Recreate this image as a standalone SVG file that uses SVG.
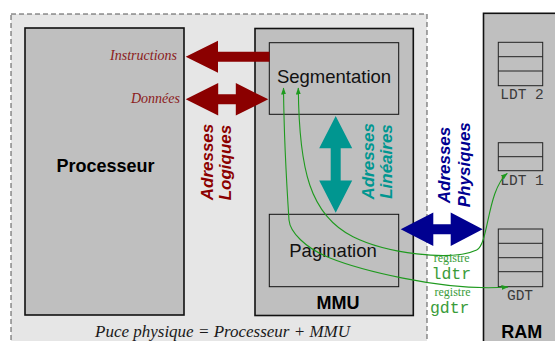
<svg xmlns="http://www.w3.org/2000/svg" width="555" height="341" viewBox="0 0 555 341">
  <defs>
    <style>
      .box { fill: #bfbfbf; stroke: #111; stroke-width: 1.6; }
      .inner { fill: #bfbfbf; stroke: #111; stroke-width: 1; }
      .title { font-family: "Liberation Sans", Arial, sans-serif; font-weight: bold; font-size: 18px; fill: #000; text-anchor: middle; }
      .unit { font-family: "Liberation Sans", Arial, sans-serif; font-size: 18.5px; fill: #111; text-anchor: middle; }
      .vlab { font-family: "Liberation Sans", Arial, sans-serif; font-weight: bold; font-style: italic; font-size: 17px; text-anchor: middle; }
      .flow { font-family: "Liberation Serif", "Times New Roman", serif; font-style: italic; font-size: 14px; fill: #8b1a1a; text-anchor: end; }
      .caption { font-family: "Liberation Serif", "Times New Roman", serif; font-style: italic; font-size: 17px; fill: #1a1a1a; }
      .tbl { fill: none; stroke: #222; stroke-width: 1; }
      .tname { font-family: "Liberation Mono", "Courier New", monospace; font-size: 14.5px; fill: #3a3a3a; text-anchor: middle; }
      .link { fill: none; stroke: #1f9a1f; stroke-width: 1.1; marker-start: url(#g-head); marker-end: url(#g-head); }
      .reg { font-family: "Liberation Serif", "Times New Roman", serif; font-size: 12px; fill: #3a9c3a; text-anchor: middle; }
      .regname { font-family: "Liberation Mono", "Courier New", monospace; font-size: 16.5px; fill: #3a9c3a; text-anchor: middle; }
      .red { fill: #8b0000; }
      .teal { fill: #009690; }
      .blue { fill: #000090; }
    </style>
    <marker id="g-head" viewBox="0 0 7 5" refX="6.5" refY="2.5" markerWidth="7" markerHeight="5" markerUnits="userSpaceOnUse" orient="auto-start-reverse">
      <path d="M0,0 L7,2.5 L0,5 z" fill="#1f9a1f"/>
    </marker>
  </defs>

  <rect width="555" height="341" fill="#fff"/>

  <!-- physical chip boundary -->
  <g id="chip">
    <rect x="11" y="14" width="416" height="335" fill="#e6e6e6" stroke="#555" stroke-width="1" stroke-dasharray="5,3"/>
    <text class="caption" x="95" y="336.5">Puce physique = Processeur + MMU</text>
  </g>

  <g id="processeur">
    <rect class="box" x="25" y="28" width="159" height="287"/>
    <text class="title" x="105.5" y="171.5">Processeur</text>
    <text class="flow" x="177" y="60">Instructions</text>
    <text class="flow" x="180" y="102.5">Données</text>
  </g>

  <g id="mmu">
    <rect class="box" x="255" y="28.5" width="158.3" height="287"/>
    <text class="title" x="338" y="309.3">MMU</text>
  </g>

  <g id="segmentation">
    <rect class="inner" x="269.3" y="42.7" width="129.4" height="71.6"/>
    <text class="unit" x="334" y="83">Segmentation</text>
  </g>

  <g id="pagination">
    <rect class="inner" x="269.3" y="214.3" width="129.4" height="72.4"/>
    <text class="unit" x="333" y="257.3">Pagination</text>
  </g>

  <g id="ram">
    <rect class="box" x="483.5" y="13.3" width="80" height="340"/>
    <text class="title" x="521.7" y="337.7">RAM</text>
  </g>

  <g id="ldt2">
    <rect class="tbl" x="498.3" y="42.3" width="44.4" height="43.4"/>
    <line class="tbl" x1="498.3" y1="56.7" x2="542.7" y2="56.7"/>
    <line class="tbl" x1="498.3" y1="71" x2="542.7" y2="71"/>
    <text class="tname" x="522" y="99.3">LDT 2</text>
  </g>

  <g id="ldt1">
    <rect class="tbl" x="498.3" y="142.7" width="44.4" height="28"/>
    <line class="tbl" x1="498.3" y1="156.7" x2="542.7" y2="156.7"/>
    <text class="tname" x="522" y="185">LDT 1</text>
  </g>

  <g id="gdt">
    <rect class="tbl" x="498.3" y="229" width="44.4" height="57.7"/>
    <line class="tbl" x1="498.3" y1="243.3" x2="542.7" y2="243.3"/>
    <line class="tbl" x1="498.3" y1="257.7" x2="542.7" y2="257.7"/>
    <line class="tbl" x1="498.3" y1="271.7" x2="542.7" y2="271.7"/>
    <text class="tname" x="520" y="300">GDT</text>
  </g>

  <!-- address buses and register links -->
  <g id="connectors">
    <!-- logical addresses -->
    <polygon class="red" points="185.7,56.7 218,40.7 218,51.7 269.5,51.7 269.5,61.7 218,61.7 218,72.7"/>
    <polygon class="red" points="185.7,99.3 218.2,83 218.2,94.3 235.8,94.3 235.8,83 268.3,99.3 235.8,115.6 235.8,104.3 218.2,104.3 218.2,115.6"/>
    <!-- linear addresses -->
    <polygon class="teal" points="335.7,116 352.2,148.3 340.7,148.3 340.7,180.4 352.2,180.4 335.7,212.7 319.2,180.4 330.7,180.4 330.7,148.3 319.2,148.3"/>
    <!-- physical addresses -->
    <polygon class="blue" points="400.7,229.3 433.3,212.6 433.3,224.3 450.7,224.3 450.7,212.6 482.7,229.3 450.7,246 450.7,234.3 433.3,234.3 433.3,246"/>

    <!-- gdtr: segmentation to GDT -->
    <path class="link" d="M283.5,88 C284,140 287,190 289,220 C290,232 305,248 330,258 C355,268 440,292 508,287"/>
    <!-- ldtr: segmentation to LDT 1 -->
    <path class="link" d="M298.3,88 C299,170 310,215 353,236.7 C385,252.7 450,262 476.7,250 C488.7,244.6 487,190 507.3,173.3"/>
  </g>

  <g id="labels">
    <text class="vlab red" transform="translate(213.3,162) rotate(-90)">Adresses</text>
    <text class="vlab red" transform="translate(230.5,162.5) rotate(-90)">Logiques</text>
    <text class="vlab teal" transform="translate(374,161.3) rotate(-90)">Adresses</text>
    <text class="vlab teal" transform="translate(392,161.5) rotate(-90)">Linéaires</text>
    <text class="vlab blue" transform="translate(450,165) rotate(-90)">Adresses</text>
    <text class="vlab blue" transform="translate(469.5,164.7) rotate(-90)">Physiques</text>
    <text class="reg" x="451.7" y="262">registre</text>
    <text class="regname" x="451.3" y="279">ldtr</text>
    <text class="reg" x="452.5" y="296">registre</text>
    <text class="regname" x="449.7" y="313">gdtr</text>
  </g>
</svg>
